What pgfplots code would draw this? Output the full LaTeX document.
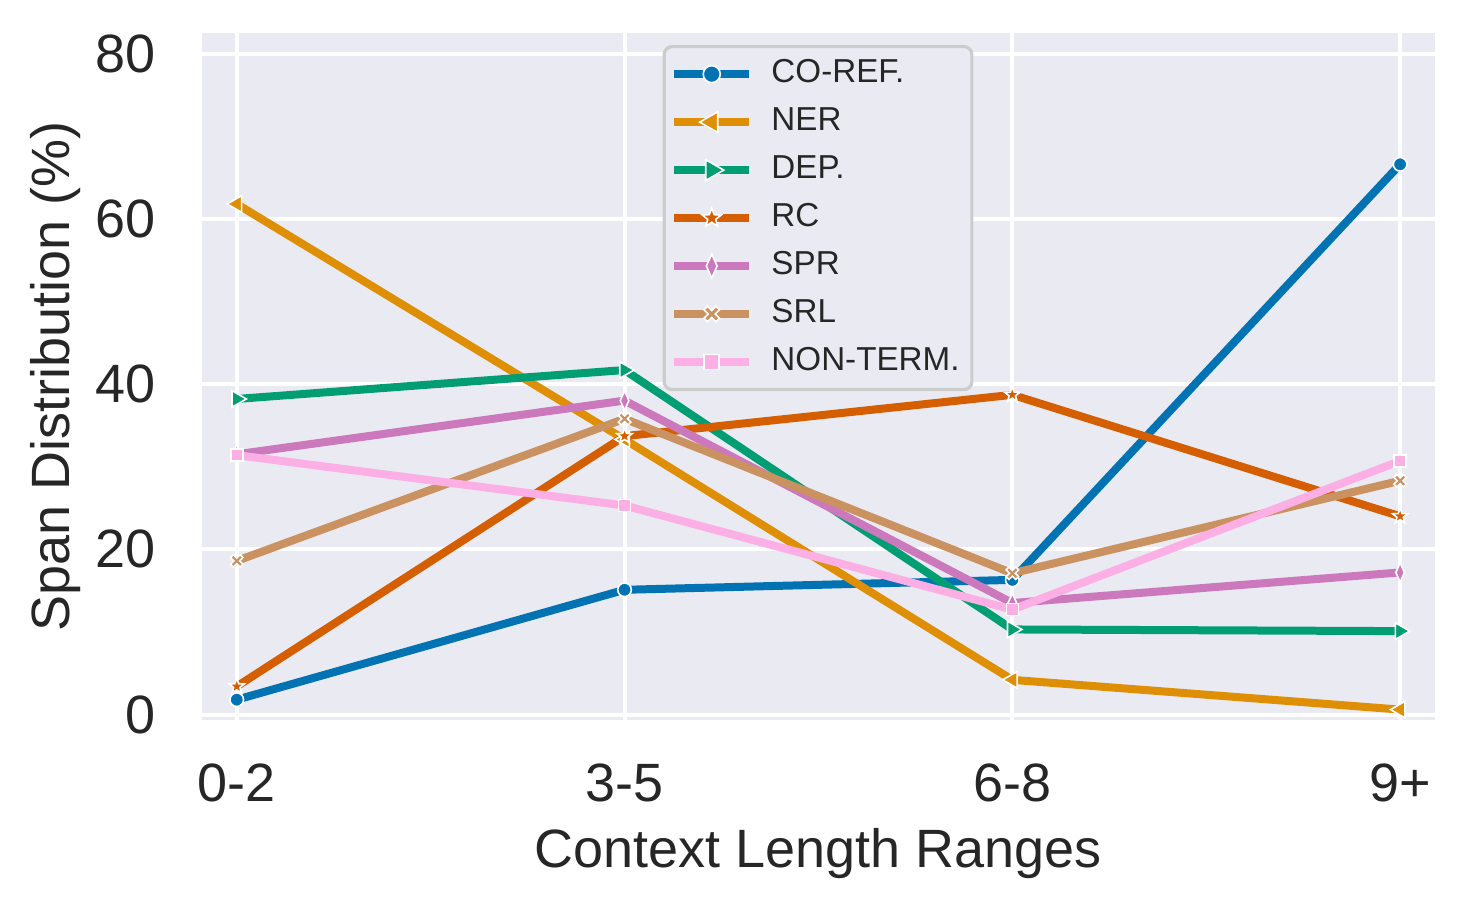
\documentclass[border=0pt]{standalone}
\usepackage{pgfplots}
\pgfplotsset{compat=1.18}
\usepackage{fontspec}
\setmainfont{Liberation Sans}
\definecolor{bgc}{HTML}{EAEAF2}
\definecolor{txt}{HTML}{262626}
\definecolor{c1}{HTML}{0173B2}
\definecolor{c2}{HTML}{DE8F05}
\definecolor{c3}{HTML}{029E73}
\definecolor{c4}{HTML}{D55E00}
\definecolor{c5}{HTML}{CC78BC}
\definecolor{c6}{HTML}{CA9161}
\definecolor{c7}{HTML}{FBAFE4}
\pgfdeclareplotmark{fstar}{%
  \pgfpathmoveto{\pgfpointpolar{90}{\pgfplotmarksize}}%
  \pgfpathlineto{\pgfpointpolar{126}{0.42\pgfplotmarksize}}%
  \pgfpathlineto{\pgfpointpolar{162}{\pgfplotmarksize}}%
  \pgfpathlineto{\pgfpointpolar{198}{0.42\pgfplotmarksize}}%
  \pgfpathlineto{\pgfpointpolar{234}{\pgfplotmarksize}}%
  \pgfpathlineto{\pgfpointpolar{270}{0.42\pgfplotmarksize}}%
  \pgfpathlineto{\pgfpointpolar{306}{\pgfplotmarksize}}%
  \pgfpathlineto{\pgfpointpolar{342}{0.42\pgfplotmarksize}}%
  \pgfpathlineto{\pgfpointpolar{18}{\pgfplotmarksize}}%
  \pgfpathlineto{\pgfpointpolar{54}{0.42\pgfplotmarksize}}%
  \pgfpathclose\pgfusepathqfillstroke}
\pgfdeclareplotmark{fx}{%
  \pgftransformrotate{45}%
  \pgfpathmoveto{\pgfpoint{0.3\pgfplotmarksize}{\pgfplotmarksize}}%
  \pgfpathlineto{\pgfpoint{0.3\pgfplotmarksize}{0.3\pgfplotmarksize}}%
  \pgfpathlineto{\pgfpoint{\pgfplotmarksize}{0.3\pgfplotmarksize}}%
  \pgfpathlineto{\pgfpoint{\pgfplotmarksize}{-0.3\pgfplotmarksize}}%
  \pgfpathlineto{\pgfpoint{0.3\pgfplotmarksize}{-0.3\pgfplotmarksize}}%
  \pgfpathlineto{\pgfpoint{0.3\pgfplotmarksize}{-\pgfplotmarksize}}%
  \pgfpathlineto{\pgfpoint{-0.3\pgfplotmarksize}{-\pgfplotmarksize}}%
  \pgfpathlineto{\pgfpoint{-0.3\pgfplotmarksize}{-0.3\pgfplotmarksize}}%
  \pgfpathlineto{\pgfpoint{-\pgfplotmarksize}{-0.3\pgfplotmarksize}}%
  \pgfpathlineto{\pgfpoint{-\pgfplotmarksize}{0.3\pgfplotmarksize}}%
  \pgfpathlineto{\pgfpoint{-0.3\pgfplotmarksize}{0.3\pgfplotmarksize}}%
  \pgfpathlineto{\pgfpoint{-0.3\pgfplotmarksize}{\pgfplotmarksize}}%
  \pgfpathclose\pgfusepathqfillstroke}
\tikzset{mk/.style 2 args={mark options={solid,draw=white,line width=0.4pt,fill=#1,#2}}}
\begin{document}
\begin{tikzpicture}
\begin{axis}[
  at={(0,0)}, anchor=south west,
  scale only axis, width=308.5pt, height=171.75pt,
  xmin=-0.09, xmax=3.09, ymin=-0.6, ymax=82.5,
  axis background/.style={fill=bgc},
  axis line style={draw=none},
  major tick length=0pt,
  grid=major, major grid style={white, line width=1pt},
  xtick={0,1,2,3}, xticklabels={0-2,3-5,6-8,9+},
  ytick={0,20,40,60,80},
  /pgf/number format/assume math mode=true,
  tick label style={font=\fontsize{13.5}{16}\selectfont, text=txt},
  xticklabel style={anchor=base, inner sep=0pt, yshift=-20.5pt},
  yticklabel style={anchor=east, inner sep=0pt, xshift=-11.5pt},
  xlabel={Context Length Ranges},
  ylabel={Span Distribution (\%)},
  label style={font=\fontsize{13.5}{16}\selectfont, text=txt},
  xlabel style={at={(axis description cs:0.5,-0.2154)}, anchor=base},
  ylabel style={at={(axis description cs:-0.107,0.5)}, anchor=base, rotate=0},
  every axis plot/.append style={line width=2pt, mark size=1.7pt},
  legend cell align=left,
  legend style={at={(axis description cs:0.3736,0.9825)}, anchor=north west,
    fill=bgc, draw=black!20, line width=0.8pt, rounded corners=2pt,
    inner xsep=1.5pt, inner ysep=0.9pt,
    font=\fontsize{8.3}{10}\selectfont, text=txt,
    nodes={inner sep=1.6pt, text height=6.55pt, text depth=2.25pt},
    /tikz/every odd column/.append style={column sep=3pt}},
  legend image code/.code={\draw[mark repeat=2,mark phase=2,#1,every mark/.append style={draw=none,scale=1.25}] plot coordinates {(0pt,0pt) (9.4pt,0pt) (18.75pt,0pt)};},
]
\addplot[c1, mark=*, mk={c1}{}] coordinates {(0,1.8) (1,15.1) (2,16.3) (3,66.6)};
\addlegendentry{CO-REF.}
\addplot[c2, mark=triangle*, mark size=2.4pt, mk={c2}{rotate=90}] coordinates {(0,61.8) (1,33.3) (2,4.2) (3,0.6)};
\addlegendentry{NER}
\addplot[c3, mark=triangle*, mark size=2.4pt, mk={c3}{rotate=-90}] coordinates {(0,38.2) (1,41.7) (2,10.3) (3,10.1)};
\addlegendentry{DEP.}
\addplot[c4, mark=fstar, mark size=2pt, mk={c4}{}] coordinates {(0,3.4) (1,33.7) (2,38.7) (3,24.0)};
\addlegendentry{RC}
\addplot[c5, mark=diamond*, mk={c5}{xscale=0.6}, mark size=2.4pt] coordinates {(0,31.5) (1,38.0) (2,13.5) (3,17.2)};
\addlegendentry{SPR}
\addplot[c6, mark=fx, mk={c6}{}] coordinates {(0,18.6) (1,35.8) (2,17.1) (3,28.3)};
\addlegendentry{SRL}
\addplot[c7, mark=square*, mk={c7}{}, mark size=1.5pt] coordinates {(0,31.4) (1,25.3) (2,12.7) (3,30.7)};
\addlegendentry{NON-TERM.}
\end{axis}
\pgfresetboundingbox
\path[use as bounding box] (-50.5pt,-47.5pt) rectangle (316.75pt,180pt);
\end{tikzpicture}
\end{document}
